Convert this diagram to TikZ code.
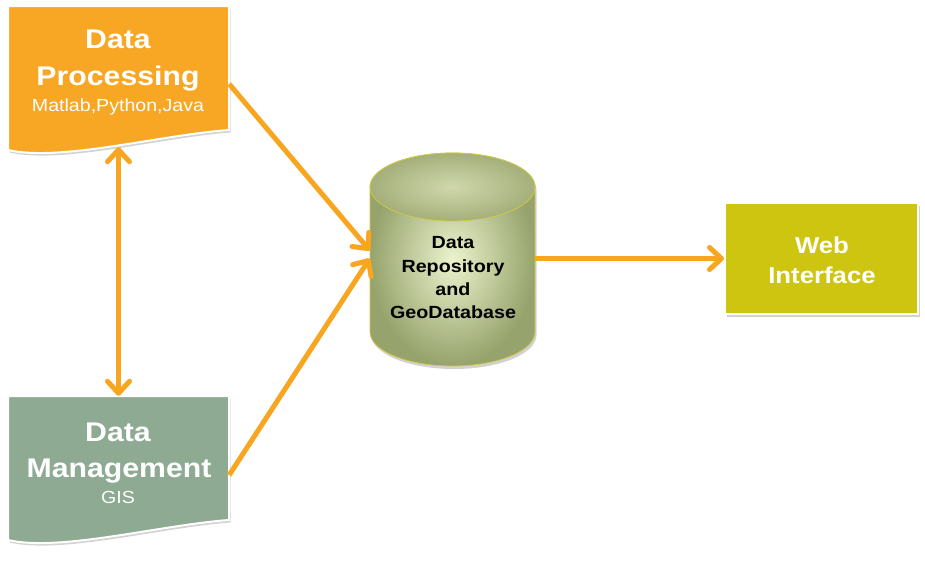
\documentclass[tikz,border=0pt]{standalone}
\usepackage{fontspec}
\setmainfont{Liberation Sans}
\newfontfamily\widefont[FakeStretch=1.12]{Liberation Sans}
\usetikzlibrary{arrows.meta,shadows}
\definecolor{dporange}{RGB}{247,167,35}
\definecolor{arroworange}{RGB}{248,165,32}
\definecolor{dmgreen}{RGB}{143,170,146}
\definecolor{webyellow}{RGB}{206,197,16}
\definecolor{cylline}{RGB}{206,200,70}
\definecolor{cyllight}{RGB}{236,243,205}
\definecolor{cyldark}{RGB}{150,163,108}
\definecolor{cyltop}{RGB}{165,175,122}
\tikzset{
  anchorbox/.style={draw=none, fill=none, inner sep=0pt, rectangle},
  docshape/.style={draw=white, line width=2pt,
    drop shadow={opacity=0.35, shadow xshift=1.5pt, shadow yshift=-2.5pt}},
  ttl/.style={text=white, inner sep=0pt, anchor=base,
    font=\widefont\bfseries\fontsize{27pt}{32pt}\selectfont},
  sub/.style={text=white, inner sep=0pt, anchor=base,
    font=\widefont\fontsize{17.5pt}{21pt}\selectfont},
  cyltext/.style={text=black, inner sep=0pt, anchor=base,
    font=\widefont\bfseries\fontsize{17.6pt}{21pt}\selectfont},
  webtext/.style={text=white, inner sep=0pt, anchor=base,
    font=\widefont\bfseries\fontsize{23pt}{28pt}\selectfont},
  barb/.tip={Straight Barb[length=12pt,width=22pt,line cap=round,line join=round]},
  conn/.style={draw=arroworange, line width=5pt, -barb,
    preaction={draw=black, opacity=0.12, transform canvas={xshift=1pt,yshift=-2pt}}},
  dconn/.style={draw=arroworange, line width=5pt, barb-barb,
    preaction={draw=black, opacity=0.12, transform canvas={xshift=1.5pt,yshift=-1pt}}},
}
\newcommand\mydocpath{(8,6) -- (229,6) -- (229,130) .. controls (160,135) and (60,162) .. (8,150) -- cycle}
\begin{document}
\begin{tikzpicture}[x=1pt,y=-1pt]
\useasboundingbox[fill=white] (0,0) rectangle (925,560);

% Data Processing
\path[docshape, fill=dporange] \mydocpath;
\node[anchorbox, minimum width=221pt, minimum height=144pt] (dp) at (118.5,78) {};
\node[ttl] (dpt1) at (118,48) {Data};
\node[ttl] (dpt2) at (118,85) {Processing};
\node[sub] (dpt3) at (118,111) {Matlab,Python,Java};

% Data Management
\begin{scope}[shift={(0,390)}]
\path[docshape, fill=dmgreen] \mydocpath;
\end{scope}
\node[anchorbox, minimum width=221pt, minimum height=144pt] (dm) at (118.5,468) {};
\node[ttl] (dmt1) at (118,441) {Data};
\node[ttl] (dmt2) at (119,477) {Management};
\node[sub] (dmt3) at (118,503) {GIS};

% Cylinder
\path[draw=cylline, line width=0.8pt, inner color=cyllight, outer color=cyldark,
  drop shadow={opacity=0.35, shadow xshift=1.5pt, shadow yshift=-3pt}]
  (370,187) -- (370,332)
  arc[start angle=180, end angle=360, x radius=82.5pt, y radius=34pt]
  -- (535,187)
  arc[start angle=0, end angle=180, x radius=82.5pt, y radius=34pt] -- cycle;
\path[draw=cylline, line width=0.8pt, inner color=cyllight!60!cyltop, outer color=cyltop]
  (452.5,187) ellipse[x radius=82.5pt, y radius=34pt];
\node[anchorbox, minimum width=165pt, minimum height=214pt] (db) at (452.5,258.5) {};
\node[cyltext] (dbt1) at (453,248) {Data};
\node[cyltext] (dbt2) at (453,272) {Repository};
\node[cyltext] (dbt3) at (453,295) {and};
\node[cyltext] (dbt4) at (453,318) {GeoDatabase};

% Web Interface
\node[rectangle, fill=webyellow, draw=white, line width=2pt,
  minimum width=193pt, minimum height=111pt,
  drop shadow={opacity=0.35, shadow xshift=1.5pt, shadow yshift=-2.5pt}]
  (web) at (821.5,258.5) {};
\node[webtext] (wt1) at (822,253) {Web};
\node[webtext] (wt2) at (822,283) {Interface};

% Connectors
\draw[conn] ([yshift=-6pt]dp.east) -- ([yshift=8pt]db.west);
\draw[conn] ([yshift=-7pt]dm.east) -- (db.west);
\draw[conn] (db.east) -- (web.west);
\draw[dconn] ([yshift=3pt]dp.south) -- (dm.north);
\end{tikzpicture}
\end{document}
